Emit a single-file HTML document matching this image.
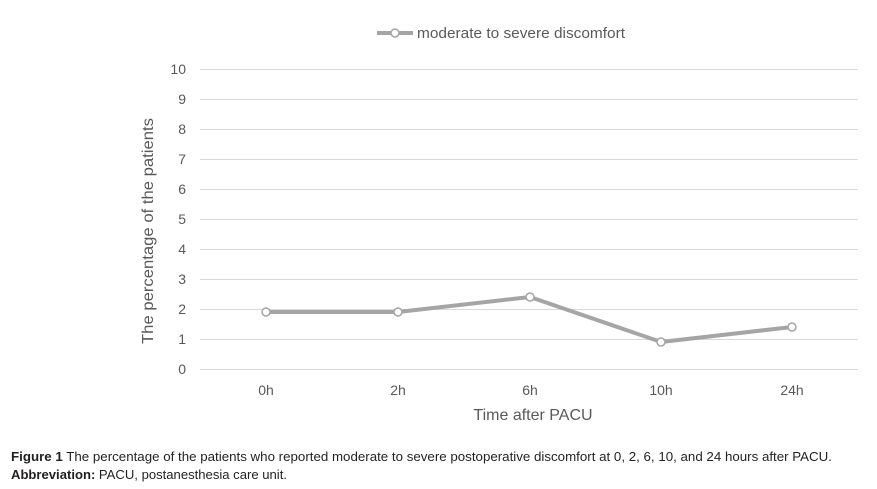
<!DOCTYPE html>
<html><head><style>body{margin:0;background:#fff}svg{display:block}</style></head>
<body>
<svg width="877" height="489" xmlns="http://www.w3.org/2000/svg" font-family="Liberation Sans, sans-serif">
<g stroke="#d9d9d9" stroke-width="1">
<line x1="200" x2="858" y1="69.5" y2="69.5"/><line x1="200" x2="858" y1="99.5" y2="99.5"/>
<line x1="200" x2="858" y1="129.5" y2="129.5"/><line x1="200" x2="858" y1="159.5" y2="159.5"/>
<line x1="200" x2="858" y1="189.5" y2="189.5"/><line x1="200" x2="858" y1="219.5" y2="219.5"/>
<line x1="200" x2="858" y1="249.5" y2="249.5"/><line x1="200" x2="858" y1="279.5" y2="279.5"/>
<line x1="200" x2="858" y1="309.5" y2="309.5"/><line x1="200" x2="858" y1="339.5" y2="339.5"/>
<line x1="200" x2="858" y1="369.5" y2="369.5"/>
</g>
<g font-size="14" fill="#595959" text-anchor="end">
<text x="186" y="74">10</text><text x="186" y="104">9</text><text x="186" y="134">8</text>
<text x="186" y="164">7</text><text x="186" y="194">6</text><text x="186" y="224">5</text>
<text x="186" y="254">4</text><text x="186" y="284">3</text><text x="186" y="314">2</text>
<text x="186" y="344">1</text><text x="186" y="374">0</text>
</g>
<g font-size="14" fill="#595959" text-anchor="middle">
<text x="266" y="395">0h</text><text x="398" y="395">2h</text><text x="530" y="395">6h</text>
<text x="661" y="395">10h</text><text x="792" y="395">24h</text>
</g>
<text x="533" y="420" font-size="16" fill="#595959" text-anchor="middle">Time after PACU</text>
<text transform="translate(153,231) rotate(-90)" font-size="16" fill="#595959" text-anchor="middle" textLength="226" lengthAdjust="spacingAndGlyphs">The percentage of the patients</text>
<polyline points="266,312 398,312 530,297 661,342 792,327" fill="none" stroke="#a5a5a5" stroke-width="4" stroke-linejoin="round"/>
<g fill="#fff" stroke="#a5a5a5" stroke-width="1.5">
<circle cx="266" cy="312" r="4"/><circle cx="398" cy="312" r="4"/><circle cx="530" cy="297" r="4"/>
<circle cx="661" cy="342" r="4"/><circle cx="792" cy="327" r="4"/>
</g>
<line x1="377" x2="413" y1="33" y2="33" stroke="#a5a5a5" stroke-width="4"/>
<circle cx="395" cy="33" r="4" fill="#fff" stroke="#a5a5a5" stroke-width="1.5"/>
<text x="417" y="38" font-size="15" fill="#595959" textLength="208" lengthAdjust="spacingAndGlyphs">moderate to severe discomfort</text>
<text x="11" y="461" font-size="13" fill="#231f20" textLength="821" lengthAdjust="spacingAndGlyphs"><tspan font-weight="bold">Figure 1</tspan> The percentage of the patients who reported moderate to severe postoperative discomfort at 0, 2, 6, 10, and 24 hours after PACU.</text>
<text x="11" y="479" font-size="13" fill="#231f20" textLength="276" lengthAdjust="spacingAndGlyphs"><tspan font-weight="bold">Abbreviation:</tspan> PACU, postanesthesia care unit.</text>
</svg>
</body></html>
